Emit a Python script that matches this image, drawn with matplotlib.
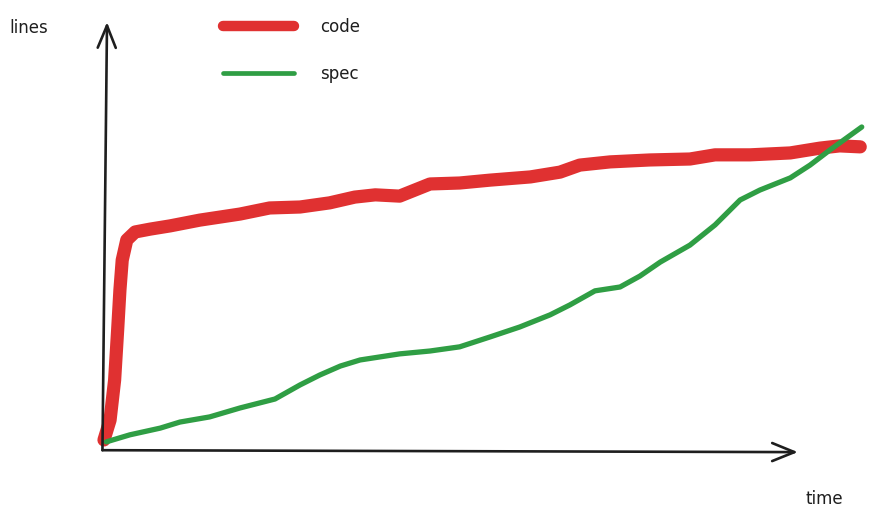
import matplotlib.pyplot as plt

# (time 0-100, lines 0-100)
code_time = [0, 0.8, 1.4, 1.8, 2.1, 2.4, 3.0, 4.1, 6.1, 8.7, 12.6, 17.9, 21.8, 25.8,
             29.7, 33.0, 35.7, 38.9, 40.9, 42.9, 46.8, 50.8, 56.1, 60.0, 62.6, 66.6,
             71.8, 77.1, 80.4, 85.0, 90.3, 94.2, 96.8, 99.5]
code_lines = [2.2, 8.4, 20.9, 36.6, 49.1, 58.4, 64.7, 67.2, 68.1, 69.1, 70.9, 72.8, 74.7,
              75.0, 76.3, 78.1, 78.8, 78.4, 80.3, 82.2, 82.5, 83.4, 84.4, 85.9, 88.1,
              89.1, 89.7, 90.0, 91.3, 91.3, 91.9, 93.4, 94.1, 93.8]

spec_time = [0.3, 3.4, 7.4, 10.0, 13.9, 17.9, 22.5, 25.8, 28.4, 31.1, 33.7, 38.9, 42.9,
             46.8, 50.8, 54.7, 58.7, 61.3, 64.6, 67.9, 70.5, 73.2, 77.1, 80.4, 83.7,
             86.3, 90.3, 92.9, 95.5, 99.7]
spec_lines = [1.6, 3.8, 5.9, 7.8, 9.4, 12.2, 15.0, 19.4, 22.5, 25.3, 27.2, 29.1, 30.0,
              31.3, 34.4, 37.5, 41.3, 44.4, 48.8, 50.0, 53.4, 57.8, 63.1, 69.4, 77.2,
              80.3, 84.1, 88.1, 92.8, 100.0]

RED = "#e03131"
GREEN = "#2f9e44"
INK = "#1e1e1e"

fig = plt.figure(figsize=(8.72, 5.25), dpi=100)
ax = fig.add_axes([0, 0, 1, 1])
ax.set_xlim(-13.68, 101.05)
ax.set_ylim(-24.375, 139.69)
ax.axis("off")

ax.plot(code_time, code_lines, color=RED, lw=9.5, solid_capstyle="round",
        solid_joinstyle="round", label="code")
ax.plot(spec_time, spec_lines, color=GREEN, lw=3.8, solid_capstyle="round",
        solid_joinstyle="round", label="spec")

# axes drawn as arrows
arrow = dict(arrowstyle="->,head_length=1.6,head_width=0.65", color=INK, lw=1.9,
             shrinkA=0, shrinkB=0)
ax.annotate("", xy=(0.4, 132.8), xytext=(-0.2, -1.0), arrowprops=arrow)
ax.annotate("", xy=(91.3, -1.6), xytext=(-0.2, -1.0), arrowprops=arrow)

ax.text(-12.4, 131.0, "lines", fontsize=12, color=INK, va="center", ha="left")
ax.text(92.3, -16.4, "time", fontsize=12, color=INK, va="center", ha="left")

leg = ax.legend(loc="upper left", bbox_to_anchor=(0.238, 0.995), frameon=False,
                fontsize=12, handlelength=4.3, handletextpad=1.55, labelspacing=1.75,
                labelcolor=INK)
leg.get_lines()[0].set_linewidth(7.5)
leg.get_lines()[1].set_linewidth(3.4)

fig.savefig("out.png", dpi=100, facecolor="white")
